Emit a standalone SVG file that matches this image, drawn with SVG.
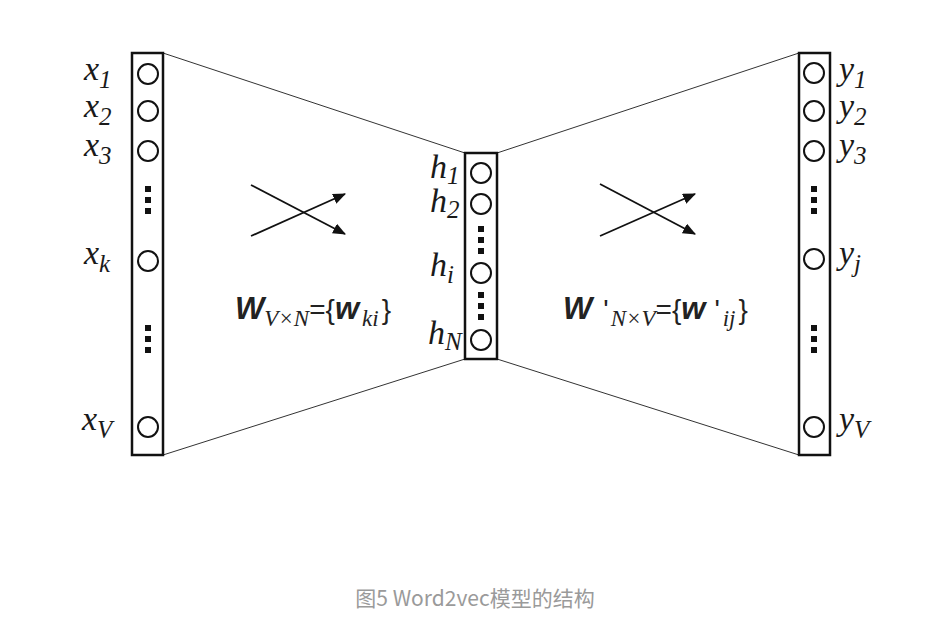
<svg xmlns="http://www.w3.org/2000/svg" width="931" height="621" viewBox="0 0 931 621">
<defs>
<style>
.box{fill:#fff;stroke:#111;stroke-width:2.5}
.node{fill:#fff;stroke:#111;stroke-width:2}
.dot{fill:#111}
.edge{stroke:#333;stroke-width:1;fill:none}
.arr{stroke:#111;stroke-width:1.8;fill:none}
.lbl{font-family:'Liberation Serif','Times New Roman',serif;font-style:italic;font-size:34px;fill:#1a1a1a}
.sub{font-size:25px}
.fw{font-family:'Liberation Sans',Arial,sans-serif;font-weight:bold;font-style:italic;font-size:31px;fill:#222}
.fs{font-family:'Liberation Sans',Arial,sans-serif;font-size:28px;fill:#222}
.fsub{font-family:'Liberation Serif','Times New Roman',serif;font-style:italic;font-size:23px;fill:#222}
.cap{font-family:'Noto Sans CJK SC','Noto Sans',sans-serif;font-size:21px;fill:#9a9a9a}
</style>
<marker id="ah2" viewBox="0 0 12 10" refX="11" refY="5" markerWidth="13" markerHeight="11" orient="auto" markerUnits="userSpaceOnUse">
<path d="M0,0 L12,5 L0,10 z" fill="#111"/>
</marker>
</defs>
<rect width="931" height="621" fill="#fff"/>
<g id="connectors">
<line class="edge" x1="163" y1="53" x2="465" y2="153"/>
<line class="edge" x1="163" y1="455" x2="465" y2="359"/>
<line class="edge" x1="497" y1="153" x2="799" y2="53"/>
<line class="edge" x1="497" y1="359" x2="799" y2="455"/>
<line class="arr" x1="251" y1="185" x2="345" y2="234" marker-end="url(#ah2)"/>
<line class="arr" x1="251" y1="236" x2="345" y2="194" marker-end="url(#ah2)"/>
<line class="arr" x1="600" y1="184" x2="695" y2="234" marker-end="url(#ah2)"/>
<line class="arr" x1="600" y1="236" x2="695" y2="194" marker-end="url(#ah2)"/>
</g>
<g id="input-layer">
<rect class="box" x="132" y="53" width="31" height="402"/>
<circle class="node" cx="148" cy="74" r="10"/>
<circle class="node" cx="148" cy="111" r="10"/>
<circle class="node" cx="148" cy="151" r="10"/>
<rect class="dot" x="145" y="186" width="6" height="6"/>
<rect class="dot" x="145" y="197" width="6" height="6"/>
<rect class="dot" x="145" y="208" width="6" height="6"/>
<circle class="node" cx="148" cy="261" r="10"/>
<rect class="dot" x="145" y="325" width="6" height="6"/>
<rect class="dot" x="145" y="336" width="6" height="6"/>
<rect class="dot" x="145" y="347" width="6" height="6"/>
<circle class="node" cx="148" cy="427" r="10"/>
<text class="lbl" x="84" y="80">x<tspan class="sub" dy="8">1</tspan></text>
<text class="lbl" x="84" y="117">x<tspan class="sub" dy="8">2</tspan></text>
<text class="lbl" x="84" y="156">x<tspan class="sub" dy="8">3</tspan></text>
<text class="lbl" x="84" y="264">x<tspan class="sub" dy="8">k</tspan></text>
<text class="lbl" x="82" y="430">x<tspan class="sub" dy="8">V</tspan></text>
</g>
<g id="hidden-layer">
<rect class="box" x="465" y="153" width="32" height="206"/>
<circle class="node" cx="481" cy="173" r="10"/>
<circle class="node" cx="481" cy="204" r="10"/>
<rect class="dot" x="478" y="226" width="6" height="6"/>
<rect class="dot" x="478" y="237" width="6" height="6"/>
<rect class="dot" x="478" y="248" width="6" height="6"/>
<circle class="node" cx="481" cy="273" r="10"/>
<rect class="dot" x="478" y="292" width="6" height="6"/>
<rect class="dot" x="478" y="303" width="6" height="6"/>
<rect class="dot" x="478" y="314" width="6" height="6"/>
<circle class="node" cx="481" cy="340" r="10"/>
<text class="lbl" x="430" y="178" font-size="31">h<tspan class="sub" font-size="21" dy="6">1</tspan></text>
<text class="lbl" x="430" y="212" font-size="31">h<tspan class="sub" font-size="21" dy="6">2</tspan></text>
<text class="lbl" x="430" y="276" font-size="31">h<tspan class="sub" font-size="21" dy="7">i</tspan></text>
<text class="lbl" x="428" y="344" font-size="31">h<tspan class="sub" font-size="21" dy="6">N</tspan></text>
</g>
<g id="output-layer">
<rect class="box" x="799" y="53" width="31" height="402"/>
<circle class="node" cx="814" cy="73" r="10"/>
<circle class="node" cx="814" cy="111" r="10"/>
<circle class="node" cx="814" cy="151" r="10"/>
<rect class="dot" x="811" y="186" width="6" height="6"/>
<rect class="dot" x="811" y="197" width="6" height="6"/>
<rect class="dot" x="811" y="208" width="6" height="6"/>
<circle class="node" cx="814" cy="259" r="10"/>
<rect class="dot" x="811" y="325" width="6" height="6"/>
<rect class="dot" x="811" y="336" width="6" height="6"/>
<rect class="dot" x="811" y="347" width="6" height="6"/>
<circle class="node" cx="814" cy="427" r="10"/>
<text class="lbl" x="839" y="80">y<tspan class="sub" dy="8">1</tspan></text>
<text class="lbl" x="839" y="117">y<tspan class="sub" dy="8">2</tspan></text>
<text class="lbl" x="839" y="156">y<tspan class="sub" dy="8">3</tspan></text>
<text class="lbl" x="839" y="264">y<tspan class="sub" dy="8">j</tspan></text>
<text class="lbl" x="839" y="430">y<tspan class="sub" dy="8">V</tspan></text>
</g>
<g id="weights-in">
<text x="235" y="319"><tspan class="fw">W</tspan><tspan class="fsub" dy="7">V×N</tspan><tspan class="fs" dy="-7">={</tspan><tspan class="fw" font-size="27">w</tspan><tspan class="fsub" dy="7" dx="3">ki</tspan><tspan class="fs" dy="-7" dx="3">}</tspan></text>
</g>
<g id="weights-out">
<text x="563" y="319"><tspan class="fw">W</tspan><tspan class="fs" dx="11">'</tspan><tspan class="fsub" dy="7" dx="2">N×V</tspan><tspan class="fs" dy="-7">={</tspan><tspan class="fw" font-size="27">w</tspan><tspan class="fs" dx="9">'</tspan><tspan class="fsub" dy="7" dx="3">ij</tspan><tspan class="fs" dy="-7" dx="3">}</tspan></text>
</g>
<text class="cap" x="475" y="606" text-anchor="middle">图5 Word2vec模型的结构</text>
</svg>
